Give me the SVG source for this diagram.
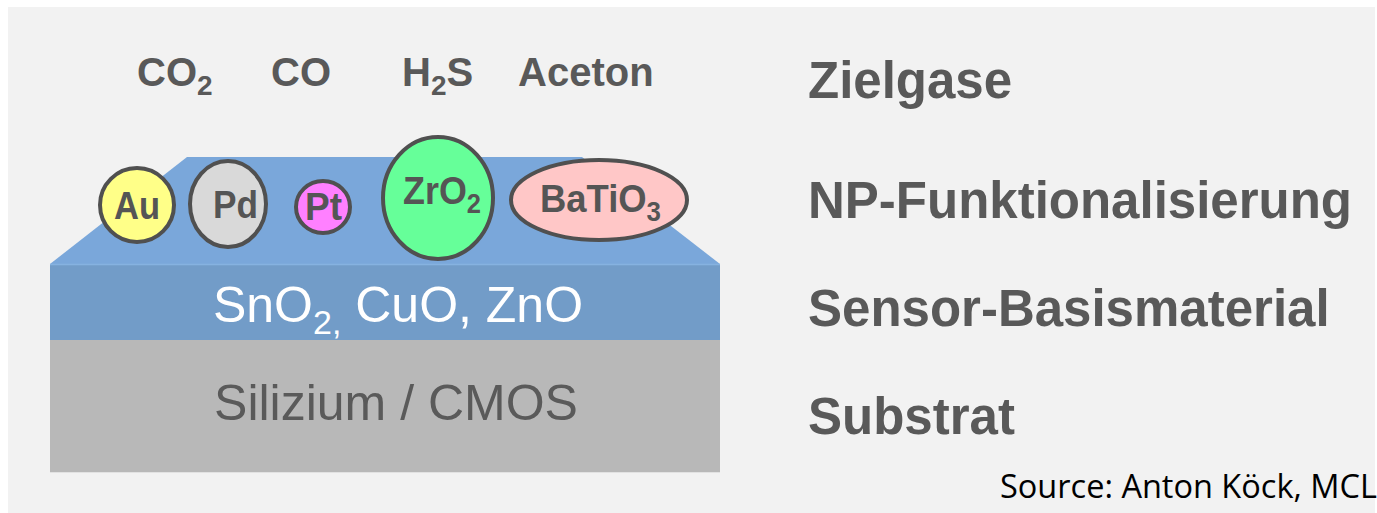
<svg xmlns="http://www.w3.org/2000/svg" width="1377" height="513" viewBox="0 0 1377 513">
  <defs>
    <style>
      .gas { font-family: "Liberation Sans", Arial, sans-serif; font-weight: bold; font-size: 40px; fill: #595959; }
      .lbl { font-family: "Liberation Sans", Arial, sans-serif; font-weight: bold; font-size: 51px; fill: #595959; }
      .np { stroke: #505050; stroke-width: 4; }
      .npt { font-family: "Liberation Sans", Arial, sans-serif; font-weight: bold; font-size: 38px; fill: #555555; }
      .layer { font-family: "Liberation Sans", Arial, sans-serif; font-size: 50px; text-anchor: middle; }
      .src { font-family: "Open Sans", "Liberation Sans", sans-serif; font-size: 32.5px; fill: #000000; }
    </style>
  </defs>

  <!-- page -->
  <rect x="0" y="0" width="1377" height="513" fill="#ffffff"/>
  <rect x="8" y="7" width="1367" height="506" fill="#f2f2f2"/>

  <!-- layer stack -->
  <g id="substrate">
    <rect x="50" y="340" width="670" height="132" fill="#b8b8b8"/>
    <line x1="50" y1="472.5" x2="720" y2="472.5" stroke="#e2e2e2" stroke-width="1"/>
    <text class="layer" x="396" y="420" font-size="51.5" fill="#5a5a5a">Silizium / CMOS</text>
  </g>

  <g id="sensor-layer">
    <polygon points="187,157 582,157 720,264 50,264" fill="#7aa7da"/>
    <rect x="50" y="264" width="670" height="76" fill="#729cc8"/>
    <line x1="50" y1="264.5" x2="720" y2="264.5" stroke="#86b2e0" stroke-width="1.5"/>
    <text class="layer" x="398" y="322" fill="#ffffff">SnO<tspan font-size="34" dy="12">2,</tspan><tspan dy="-12"> CuO, ZnO</tspan></text>
  </g>

  <!-- nanoparticles -->
  <g id="np-au">
    <ellipse class="np" cx="137" cy="205" rx="37" ry="37" fill="#ffff88"/>
    <text class="npt" x="114" y="219" textLength="46" lengthAdjust="spacingAndGlyphs">Au</text>
  </g>
  <g id="np-pd">
    <ellipse class="np" cx="228" cy="204" rx="38" ry="43" fill="#d9d9d9"/>
    <text class="npt" x="213" y="218" textLength="45" lengthAdjust="spacingAndGlyphs">Pd</text>
  </g>
  <g id="np-pt">
    <ellipse class="np" cx="323" cy="207" rx="27" ry="26" fill="#ff80ff"/>
    <text class="npt" x="305" y="220" font-size="36" textLength="37" lengthAdjust="spacingAndGlyphs">Pt</text>
  </g>
  <g id="np-zro2">
    <ellipse class="np" cx="438" cy="198" rx="55" ry="61" fill="#66ff99"/>
    <text class="npt" x="403" y="204" textLength="78" lengthAdjust="spacingAndGlyphs">ZrO<tspan font-size="27" dy="9">2</tspan></text>
  </g>
  <g id="np-batio3">
    <ellipse class="np" cx="599" cy="200" rx="88" ry="40" fill="#ffc7c7"/>
    <text class="npt" x="540" y="212" textLength="121" lengthAdjust="spacingAndGlyphs">BaTiO<tspan font-size="27" dy="9">3</tspan></text>
  </g>

  <!-- target gases -->
  <g id="gases">
    <text class="gas" x="137" y="86">CO<tspan font-size="28" dy="9">2</tspan></text>
    <text class="gas" x="271" y="86">CO</text>
    <text class="gas" x="402" y="86">H<tspan font-size="28" dy="9">2</tspan><tspan dy="-9">S</tspan></text>
    <text class="gas" x="518" y="86">Aceton</text>
  </g>

  <!-- layer names -->
  <g id="labels">
    <text class="lbl" x="808" y="98">Zielgase</text>
    <text class="lbl" x="808" y="218">NP-Funktionalisierung</text>
    <text class="lbl" x="808" y="326">Sensor-Basismaterial</text>
    <text class="lbl" x="808" y="434">Substrat</text>
  </g>

  <text class="src" x="1000" y="498">Source: Anton Köck, MCL</text>
</svg>
